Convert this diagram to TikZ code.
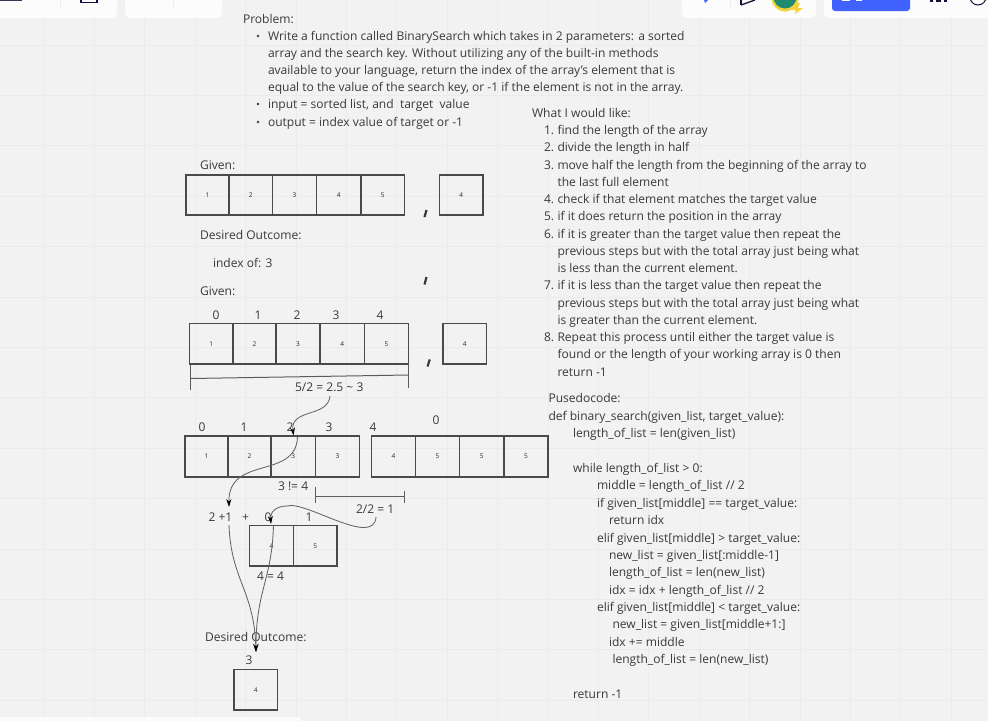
\documentclass[tikz,border=0pt]{standalone}
\usepackage{fontspec}
\setmainfont{Open Sans}
\usetikzlibrary{arrows.meta}
\definecolor{bgc}{HTML}{F2F2F2}
\definecolor{gridc}{HTML}{EBEBEB}
\definecolor{inkc}{HTML}{3A3A3A}
\definecolor{cellc}{HTML}{4A4A4A}
\definecolor{panelc}{HTML}{FCFCFC}
\definecolor{btnc}{HTML}{4262FF}
\definecolor{navyc}{HTML}{12123A}
\definecolor{greenc}{HTML}{1E8A6E}
\definecolor{yellowc}{HTML}{F2D33C}
\tikzset{
  x=1pt,y=-1pt,
  txt/.style={anchor=base west,inner sep=0pt,outer sep=0pt,text=inkc,font=\fontsize{12.05}{14}\selectfont},
  idx/.style={anchor=base,inner sep=0pt,outer sep=0pt,text=inkc,font=\fontsize{12}{14}\selectfont},
  cellbox/.style={draw=cellc,line width=1.3pt,inner sep=0pt,outer sep=0pt,text=black!85,font=\fontsize{6.5}{8}\selectfont},
  curveline/.style={draw=cellc!85,line width=0.85pt},
  arrowline/.style={curveline,-{Stealth[length=8pt,width=5pt,color=black]}},
  bracketline/.style={draw=cellc!90,line width=1pt},
  tick/.style={draw=inkc,line width=2.2pt},
  panel/.style={fill=panelc,draw=none,rounded corners=5pt}
}
\newcommand{\tl}[4]{\node[txt] (#1) at (#2,#3) {#4};}
\newcommand{\ix}[4]{\node[idx] (#1) at (#2,#3) {#4};}
\newcommand{\cel}[6]{%
  \pgfmathsetmacro{\cw}{#3-#2}\pgfmathsetmacro{\ch}{#5-#4}%
  \pgfmathsetmacro{\cx}{(#3+#2)/2}\pgfmathsetmacro{\cy}{(#5+#4)/2}%
  \node[cellbox,minimum width=\cw pt,minimum height=\ch pt] (#1) at (\cx,\cy) {#6};}
\begin{document}
\begin{tikzpicture}
\useasboundingbox (0,0) rectangle (988,721);
\fill[bgc] (0,0) rectangle (988,721);
\foreach \g in {45,95.4,145.8,196.2,246.6,297,347.4,397.8,448.2,498.6,549,599.4,649.8,700.2}{\draw[gridc,line width=0.7pt] (0,\g) -- (988,\g);}
\foreach \g in {44,94.4,144.8,195.2,245.6,296,346.4,396.8,447.2,497.6,548,598.4,648.8,699.2,749.6,800,850.4,900.8,951.2}{\draw[gridc,line width=0.7pt] (\g,0) -- (\g,721);}
% interface panels
\fill[panel] (-10,-10) rectangle (117,18);
\fill[panel] (125,-10) rectangle (222,18);
\fill[panel] (682,-10) rectangle (816,18);
\fill[panel] (824,-10) rectangle (998,18);
\fill[panel] (-10,717) rectangle (302,731);
\draw[gridc,line width=0.7pt] (60,0) -- (60,7);
\draw[gridc,line width=0.7pt] (173,0) -- (173,7);
\draw[gridc,line width=0.7pt] (730,0) -- (730,7);
\draw[navyc,line width=1.2pt] (81,-2) rectangle (97,2.5);
\fill[navyc!85] (0,-2) rectangle (22,1);
\fill[btnc] (704,0) -- (708,0) -- (705,3) -- cycle;
\draw[navyc,line width=1.3pt] (741,5) -- (755,0);
\draw[navyc,line width=1.3pt] (741,-2) -- (741,5);
\fill[yellowc] (785,-2) circle (13.5);
\fill[greenc] (785,-3) circle (11.5);
\fill[yellowc] (797,3) -- (800,3) -- (798,8) -- (803,8) -- (795,14) -- (796,10) -- (792,10) -- cycle;
\fill[btnc,rounded corners=3pt] (832,-8) rectangle (910,11);
\fill[white] (842,0) rectangle (850,1);
\fill[white] (856,0) rectangle (862,1);
\fill[navyc] (930,0) rectangle (933,2);
\fill[navyc] (936,0) rectangle (941,2);
\fill[navyc] (944,0) rectangle (947,2);
\draw[navyc,line width=1pt] (978,-3) circle (8);
% problem
\tl{tProblem}{243}{23}{Problem:}
\tl{tW1}{268}{40}{Write a function called BinarySearch which takes in 2 parameters: a sorted}
\tl{tW2}{268}{57}{array and the search key. Without utilizing any of the built-in methods}
\tl{tW3}{268}{74}{available to your language, return the index of the array’s element that is}
\tl{tW4}{268}{91}{equal to the value of the search key, or -1 if the element is not in the array.}
\tl{tW5}{268}{108}{input = sorted list, and\ \ target\ \ value}
\tl{tW6}{268}{126}{output = index value of target or -1}
\foreach \b in {36,104,122}{\fill[inkc] (258,\b) circle (1.3);}
% left texts
\tl{tGiven1}{200}{169}{Given:}
\tl{tOut1}{200}{239}{Desired Outcome:}
\tl{tIdx}{213}{267}{index of: 3}
\tl{tGiven2}{200}{295}{Given:}
% row 1
\cel{a1}{186}{229}{175}{215}{1}
\cel{a2}{229}{272.5}{175}{215}{2}
\cel{a3}{272.5}{316.5}{175}{215}{3}
\cel{a4}{316.5}{361}{175}{215}{4}
\cel{a5}{361}{404.5}{175}{215}{5}
\cel{at}{439.5}{483}{175}{215}{4}
% row 2
\ix{b0}{216}{319}{0}\ix{b1}{258}{319}{1}\ix{b2}{297}{319}{2}\ix{b3}{336}{319}{3}\ix{b4}{380}{319}{4}
\cel{c1}{189.5}{233}{323.5}{364}{1}
\cel{c2}{233}{276}{323.5}{364}{2}
\cel{c3}{276}{320}{323.5}{364}{3}
\cel{c4}{320}{364.5}{323.5}{364}{4}
\cel{c5}{364.5}{408.5}{323.5}{364}{5}
\cel{ct}{443}{486.5}{323.5}{364}{4}
% row 3
\ix{d0}{202}{431}{0}\ix{d1}{244}{431}{1}\ix{d2}{290}{431}{2}\ix{d3}{329}{431}{3}\ix{d4}{373}{431}{4}
\ix{d5}{436}{424}{0}
\cel{e1}{185}{228}{436}{477}{1}
\cel{e2}{228}{271}{436}{477}{2}
\cel{e3}{271}{315.5}{436}{477}{3}
\cel{e4}{315.5}{359.5}{436}{477}{3}
\cel{f1}{371.5}{415.5}{436}{477}{4}
\cel{f2}{415.5}{459.5}{436}{477}{5}
\cel{f3}{459.5}{504}{436}{477}{5}
\cel{f4}{504}{548}{436}{477}{5}
% row 4
\cel{g1}{249.5}{293.5}{525.5}{566}{4}
\cel{g2}{293.5}{337}{525.5}{566}{5}
\cel{h1}{234}{277.5}{669.5}{710}{4}
% labels
\tl{tHalf}{295}{391}{5/2 = 2.5 \textasciitilde{} 3}
\tl{tNe}{278}{490}{3 != 4}
\tl{tQ}{356}{513}{2/2 = 1}
\tl{tSum}{208.5}{521}{2 +1}
\tl{tPlus}{242}{521}{+}
\ix{g0}{268}{521}{0}\ix{gi}{309}{521}{1}
\tl{tEq}{257}{580}{4 = 4}
\tl{tOut2}{205}{641}{Desired Outcome:}
\ix{h0}{249}{664}{3}
% brackets
\coordinate (brA) at (190,365);\coordinate (brB) at (190,390);\coordinate (brC) at (408.5,364);\coordinate (brD) at (408.5,388);
\coordinate (brE) at (190.5,378.5);\coordinate (brF) at (408.5,375);
\draw[bracketline] (brA) -- (brB);\draw[bracketline] (brC) -- (brD);\draw[bracketline] (brE) -- (brF);
\coordinate (bsA) at (315.5,487);\coordinate (bsB) at (315.5,503);\coordinate (bsC) at (404,491);\coordinate (bsD) at (404,503);
\coordinate (bsE) at (315.5,496.5);\coordinate (bsF) at (404,496.5);
\draw[bracketline] (bsA) -- (bsB);\draw[bracketline] (bsC) -- (bsD);\draw[bracketline] (bsE) -- (bsF);
% commas
\coordinate (k1a) at (426.5,210);\coordinate (k1b) at (424.5,217);
\coordinate (k2a) at (426.5,277);\coordinate (k2b) at (424.5,284.5);
\coordinate (k3a) at (429.8,359.5);\coordinate (k3b) at (427.5,366.5);
\draw[tick] (k1a) -- (k1b);\draw[tick] (k2a) -- (k2b);\draw[tick] (k3a) -- (k3b);
% curves
\coordinate (p1) at (330,396);\coordinate (p2) at (293.5,435.5);
\draw[arrowline] (p1) .. controls (328,418) and (290,408) .. (p2);
\coordinate (p3) at (297.5,437);\coordinate (p4) at (229,507);
\draw[arrowline] (p3) .. controls (296,480) and (228,455) .. (p4);
\coordinate (p5) at (229,525);\coordinate (p6) at (256,652);
\draw[arrowline] (p5) .. controls (231,580) and (254,590) .. (p6);
\coordinate (p7) at (376,517);\coordinate (p8) at (271,524);
\draw[arrowline] (p7) .. controls (374,548) and (305,500) .. (287,506) .. controls (276,506) and (270,512) .. (p8);
\coordinate (p9) at (273.5,525);
\draw[arrowline] (p9) .. controls (272,580) and (256,590) .. (p6);
% list
\tl{tLike}{532}{117}{What I would like:}
\tl{n1}{544}{134}{1.}\tl{l1}{557.5}{134}{find the length of the array}
\tl{n2}{544}{151}{2.}\tl{l2}{557.5}{151}{divide the length in half}
\tl{n3}{544}{169}{3.}\tl{l3}{557.5}{169}{move half the length from the beginning of the array to}
\tl{l3b}{557.5}{186}{the last full element}
\tl{n4}{544}{203}{4.}\tl{l4}{557.5}{203}{check if that element matches the target value}
\tl{n5}{544}{220}{5.}\tl{l5}{557.5}{220}{if it does return the position in the array}
\tl{n6}{544}{238}{6.}\tl{l6}{557.5}{238}{if it is greater than the target value then repeat the}
\tl{l6b}{557.5}{255}{previous steps but with the total array just being what}
\tl{l6c}{557.5}{272}{is less than the current element.}
\tl{n7}{544}{289}{7.}\tl{l7}{557.5}{289}{if it is less than the target value then repeat the}
\tl{l7b}{557.5}{307}{previous steps but with the total array just being what}
\tl{l7c}{557.5}{324}{is greater than the current element.}
\tl{n8}{544}{341}{8.}\tl{l8}{557.5}{341}{Repeat this process until either the target value is}
\tl{l8b}{557.5}{358}{found or the length of your working array is 0 then}
\tl{l8c}{557.5}{376}{return -1}
% code
\tl{c01}{548.5}{402}{Pusedocode:}
\tl{c02}{548.5}{420}{def binary\_search(given\_list, target\_value):}
\tl{c03}{573}{437}{length\_of\_list = len(given\_list)}
\tl{c04}{573}{472}{while length\_of\_list > 0:}
\tl{c05}{597}{489}{middle = length\_of\_list // 2}
\tl{c06}{597}{507}{if given\_list[middle] == target\_value:}
\tl{c07}{609}{524}{return idx}
\tl{c08}{597}{542}{elif given\_list[middle] > target\_value:}
\tl{c09}{609}{559}{new\_list = given\_list[:middle-1]}
\tl{c10}{609}{576}{length\_of\_list = len(new\_list)}
\tl{c11}{609}{594}{idx = idx + length\_of\_list // 2}
\tl{c12}{597}{611}{elif given\_list[middle] < target\_value:}
\tl{c13}{612.5}{628}{new\_list = given\_list[middle+1:]}
\tl{c14}{609}{646}{idx += middle}
\tl{c15}{612.5}{663}{length\_of\_list = len(new\_list)}
\tl{c16}{573}{698}{return -1}
\end{tikzpicture}
\end{document}
